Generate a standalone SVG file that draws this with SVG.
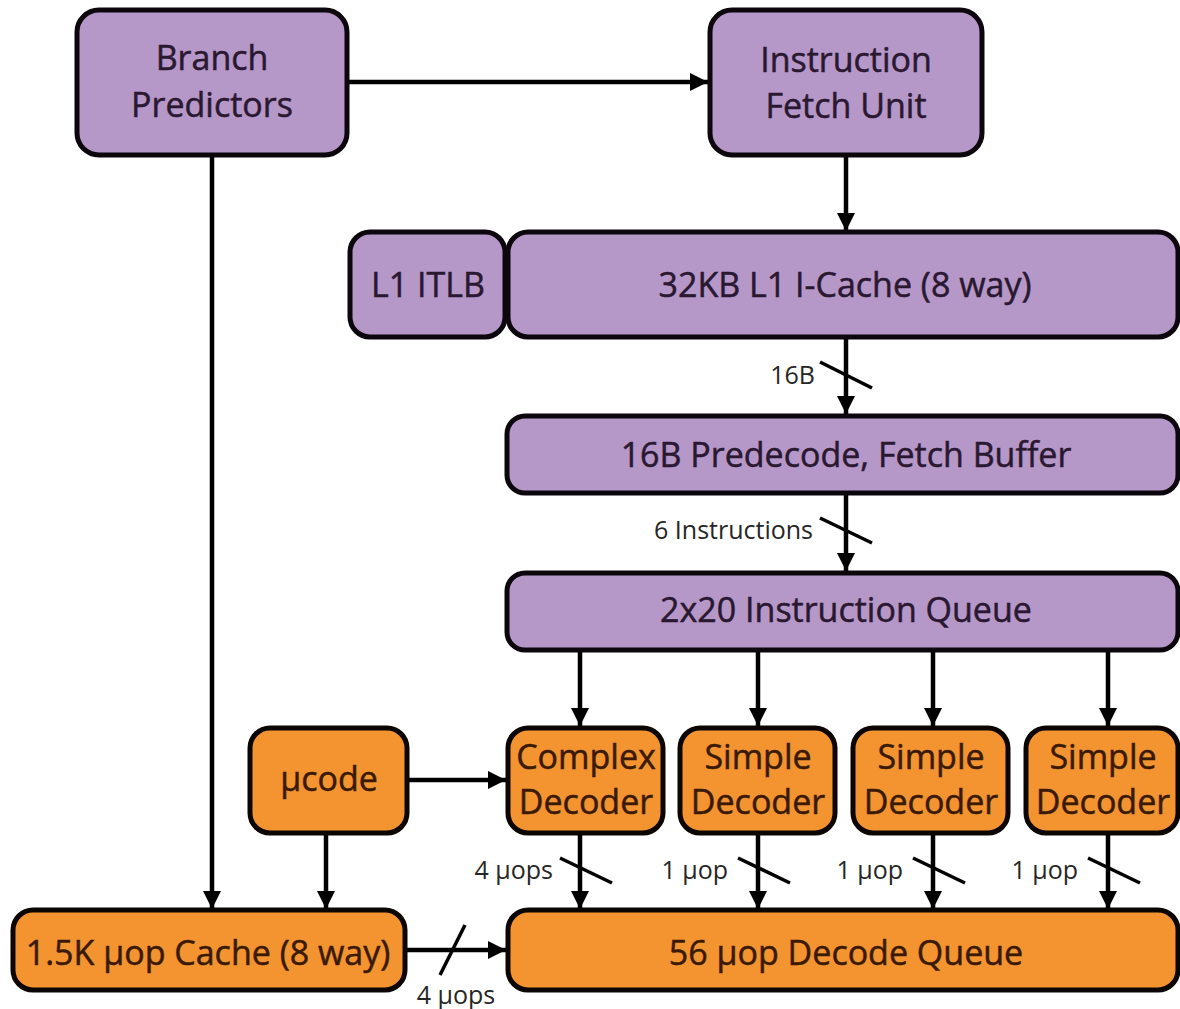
<svg xmlns="http://www.w3.org/2000/svg" width="1180" height="1009" viewBox="0 0 1180 1009">
<defs>
<marker id="ah" markerUnits="userSpaceOnUse" markerWidth="20" markerHeight="20" viewBox="0 0 20 20" refX="18" refY="10" orient="auto">
<path d="M0,1 L18,10 L0,19 Z" fill="#000"/>
</marker>
</defs>
<style>
.p{fill:#b597c8;stroke:#0b070c;stroke-width:5}
.o{fill:#f39430;stroke:#0b0603;stroke-width:5}
.t{font-family:"Open Sans","Noto Sans",sans-serif;font-size:34px;text-anchor:middle;stroke-width:0.5}
.tp{fill:#2a1831;stroke:#2a1831}
.to{fill:#3a1a05;stroke:#3a1a05}
.l{font-family:"Open Sans","Noto Sans",sans-serif;font-size:25px;fill:#262626}
.c{stroke:#000;stroke-width:4.5;fill:none}
.a{marker-end:url(#ah)}
.s{stroke:#000;stroke-width:3.5}
</style>
<rect width="1180" height="1009" fill="#fff"/>
<g id="connectors">
<line class="c a" x1="348" y1="82" x2="708" y2="82"/>
<line class="c a" x1="212" y1="157" x2="212" y2="909"/>
<line class="c a" x1="846" y1="157" x2="846" y2="231"/>
<line class="c a" x1="846" y1="339" x2="846" y2="414"/>
<line class="s" x1="820" y1="362" x2="872" y2="388"/>
<text class="l" x="815" y="384" text-anchor="end">16B</text>
<line class="c a" x1="846" y1="495" x2="846" y2="571"/>
<line class="s" x1="820" y1="518" x2="872" y2="543"/>
<text class="l" x="813" y="539" text-anchor="end">6 Instructions</text>
<line class="c a" x1="580" y1="652" x2="580" y2="726"/>
<line class="c a" x1="758" y1="652" x2="758" y2="726"/>
<line class="c a" x1="933" y1="652" x2="933" y2="726"/>
<line class="c a" x1="1108" y1="652" x2="1108" y2="726"/>
<line class="c a" x1="409" y1="780" x2="506" y2="780"/>
<line class="c a" x1="326" y1="835" x2="326" y2="909"/>
<line class="c a" x1="580" y1="835" x2="580" y2="909"/>
<line class="s" x1="560" y1="858" x2="612" y2="883"/>
<text class="l" x="553" y="879" text-anchor="end">4 µops</text>
<line class="c a" x1="758" y1="835" x2="758" y2="909"/>
<line class="s" x1="738" y1="858" x2="790" y2="883"/>
<text class="l" x="728" y="879" text-anchor="end">1 µop</text>
<line class="c a" x1="933" y1="835" x2="933" y2="909"/>
<line class="s" x1="913" y1="858" x2="965" y2="883"/>
<text class="l" x="903" y="879" text-anchor="end">1 µop</text>
<line class="c a" x1="1108" y1="835" x2="1108" y2="909"/>
<line class="s" x1="1088" y1="858" x2="1140" y2="883"/>
<text class="l" x="1078" y="879" text-anchor="end">1 µop</text>
<line class="c a" x1="407" y1="950" x2="506" y2="950"/>
<line class="s" x1="440" y1="975" x2="465" y2="925"/>
<text class="l" x="456" y="1004" text-anchor="middle">4 µops</text>
</g>
<g id="branch-predictors">
<rect class="p" x="77" y="10" width="270" height="145" rx="22"/>
<text class="t tp" x="212" y="70">Branch</text>
<text class="t tp" x="212" y="117">Predictors</text>
</g>
<g id="fetch-unit">
<rect class="p" x="710" y="10" width="272" height="145" rx="22"/>
<text class="t tp" x="846" y="72">Instruction</text>
<text class="t tp" x="846" y="118">Fetch Unit</text>
</g>
<g id="itlb">
<rect class="p" x="350" y="232" width="155" height="105" rx="20"/>
<text class="t tp" x="428" y="297">L1 ITLB</text>
</g>
<g id="icache">
<rect class="p" x="508" y="232" width="670" height="105" rx="20"/>
<text class="t tp" x="845" y="297">32KB L1 I-Cache (8 way)</text>
</g>
<g id="predecode">
<rect class="p" x="507" y="416" width="671" height="77" rx="18"/>
<text class="t tp" x="846" y="467">16B Predecode, Fetch Buffer</text>
</g>
<g id="instr-queue">
<rect class="p" x="507" y="573" width="671" height="77" rx="18"/>
<text class="t tp" x="846" y="622">2x20 Instruction Queue</text>
</g>
<g id="ucode">
<rect class="o" x="250" y="728" width="157" height="105" rx="20"/>
<text class="t to" x="329" y="791">µcode</text>
</g>
<g id="complex-decoder">
<rect class="o" x="508" y="728" width="155" height="105" rx="20"/>
<text class="t to" x="586" y="769">Complex</text>
<text class="t to" x="586" y="814">Decoder</text>
</g>
<g id="simple-decoder-1">
<rect class="o" x="680" y="728" width="155" height="105" rx="20"/>
<text class="t to" x="758" y="769">Simple</text>
<text class="t to" x="758" y="814">Decoder</text>
</g>
<g id="simple-decoder-2">
<rect class="o" x="853" y="728" width="155" height="105" rx="20"/>
<text class="t to" x="931" y="769">Simple</text>
<text class="t to" x="931" y="814">Decoder</text>
</g>
<g id="simple-decoder-3">
<rect class="o" x="1026" y="728" width="152" height="105" rx="20"/>
<text class="t to" x="1103" y="769">Simple</text>
<text class="t to" x="1103" y="814">Decoder</text>
</g>
<g id="uop-cache">
<rect class="o" x="13" y="910" width="392" height="80" rx="20"/>
<text class="t to" x="208" y="965">1.5K µop Cache (8 way)</text>
</g>
<g id="decode-queue">
<rect class="o" x="508" y="910" width="670" height="80" rx="20"/>
<text class="t to" x="846" y="965">56 µop Decode Queue</text>
</g>
</svg>
